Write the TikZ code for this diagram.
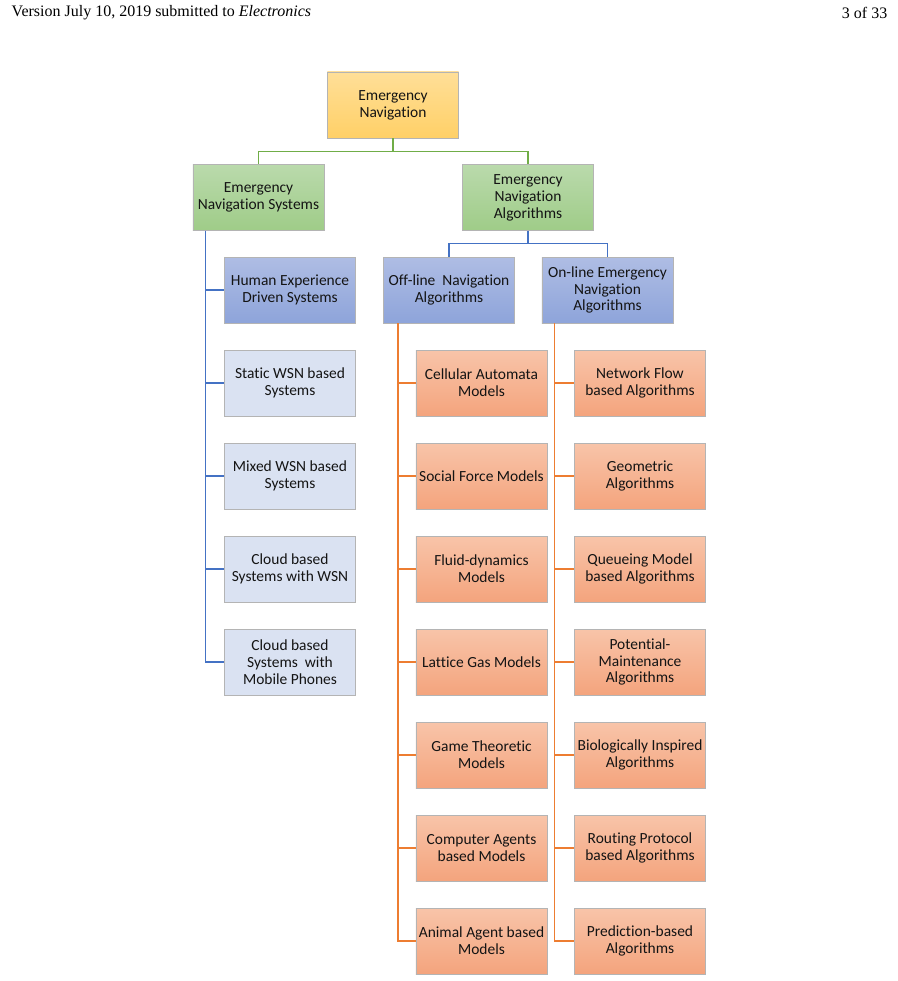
\documentclass[tikz,border=0pt]{standalone}
\usepackage{fontspec}
\setmainfont{Carlito}[Ligatures=NoCommon]
\newfontfamily\headfont{Liberation Serif}
\usetikzlibrary{positioning, calc}

\definecolor{rootA}{HTML}{FFDF98}
\definecolor{rootB}{HTML}{FFD067}
\definecolor{greenA}{HTML}{BADAAC}
\definecolor{greenB}{HTML}{9FCC88}
\definecolor{blueA}{HTML}{AFBDE4}
\definecolor{blueB}{HTML}{8EA4DA}
\definecolor{lightblue}{HTML}{DAE2F2}
\definecolor{orangeA}{HTML}{F8C4A9}
\definecolor{orangeB}{HTML}{F4A47D}
\definecolor{boxline}{HTML}{B4B4B4}
\definecolor{textcol}{HTML}{141414}
\definecolor{lgreen}{HTML}{70AD47}
\definecolor{lblue}{HTML}{4472C4}
\definecolor{lorange}{HTML}{ED7D31}

\begin{document}
\begin{tikzpicture}[x=0.75pt, y=-0.75pt,
  box/.style={rectangle, draw=boxline, line width=0.5pt,
              minimum width=98.5pt, minimum height=49.5pt, inner sep=1pt,
              align=center, text=textcol,
              font=\fontsize{11.6}{12.7}\selectfont},
  rootbox/.style={box, top color=rootA, bottom color=rootB},
  greenbox/.style={box, top color=greenA, bottom color=greenB},
  bluebox/.style={box, top color=blueA, bottom color=blueB},
  lightbox/.style={box, fill=lightblue},
  orangebox/.style={box, top color=orangeA, bottom color=orangeB},
  greenline/.style={draw=lgreen, line width=0.8pt},
  blueline/.style={draw=lblue, line width=0.9pt},
  orangeline/.style={draw=lorange, line width=0.9pt}
]
  \useasboundingbox (0,0) rectangle (898,981);

  \node[anchor=west, font=\headfont\fontsize{12}{14}\selectfont] (ver) at (7,13)
    {Version July 10, 2019 submitted to \textit{Electronics}};
  \node[anchor=east, font=\headfont\fontsize{12}{14}\selectfont] (page) at (892,13) {3 of 33};

  \node[rootbox]  (root) at (393,105)   {Emergency\\Navigation};
  \node[greenbox] (sys)  at (258.5,197.5) {Emergency\\Navigation Systems};
  \node[greenbox] (alg)  at (528,197.5)   {Emergency\\Navigation\\Algorithms};
  \node[bluebox]  (off)  at (449,290)     {Off-line\ \ Navigation\\Algorithms};
  \node[bluebox]  (on)   at (607.5,290)   {On-line Emergency\\Navigation\\Algorithms};
  \node[bluebox]  (sys1) at (290,290)     {Human Experience\\Driven Systems};

  \foreach \txt [count=\i from 2] in {{Static WSN based\\Systems},
      {Mixed WSN based\\Systems}, {Cloud based\\Systems with WSN},
      {Cloud based\\Systems\ \ with\\Mobile Phones}}
    \node[lightbox] (sys\i) at (290,290+93*\i-93) {\txt};

  \foreach \txt [count=\i] in {{Cellular Automata\\Models}, {Social Force Models},
      {Fluid-dynamics\\Models}, {Lattice Gas Models}, {Game Theoretic\\Models},
      {Computer Agents\\based Models}, {Animal Agent based\\Models}}
    \node[orangebox] (off\i) at (481.5,290+93*\i) {\txt};

  \foreach \txt [count=\i] in {{Network Flow\\based Algorithms}, {Geometric\\Algorithms},
      {Queueing Model\\based Algorithms}, {Potential-\\Maintenance\\Algorithms},
      {Biologically Inspired\\Algorithms}, {Routing Protocol\\based Algorithms},
      {Prediction-based\\Algorithms}}
    \node[orangebox] (on\i) at (640,290+93*\i) {\txt};

  \draw[greenline] (root.south) -- ++(0,13) -| (sys.north);
  \draw[greenline] (root.south) -- ++(0,13) -| (alg.north);
  \draw[blueline] (alg.south) -- ++(0,13) -| (off.north);
  \draw[blueline] (alg.south) -- ++(0,13) -| (on.north);

  \foreach \i in {1,...,5}
    \draw[blueline] ([xshift=9.75pt]sys.south west) |- (sys\i.west);
  \foreach \i in {1,...,7}{
    \draw[orangeline] ([xshift=11.25pt]off.south west) |- (off\i.west);
    \draw[orangeline] ([xshift=9.75pt]on.south west) |- (on\i.west);
  }
\end{tikzpicture}
\end{document}
